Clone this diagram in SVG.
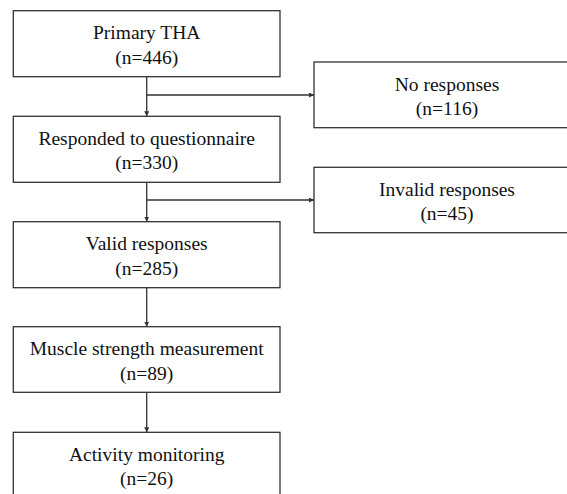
<svg xmlns="http://www.w3.org/2000/svg" width="567" height="494" viewBox="0 0 567 494">
<defs>
<marker id="arr" viewBox="0 0 10 10" refX="10" refY="5" markerWidth="5" markerHeight="5" orient="auto" markerUnits="userSpaceOnUse">
<path d="M0,0 L10,5 L0,10 z" fill="#333"/>
</marker>
<style>
.box{fill:#fff;stroke:#333;stroke-width:1.3}
.t{font-family:"Liberation Serif","Times New Roman",serif;font-size:19.5px;fill:#111;text-anchor:middle}
.c{fill:none;stroke:#333;stroke-width:1.3}
</style>
</defs>
<rect width="567" height="494" fill="#fff"/>
<g id="connectors">
<line class="c" x1="146.7" y1="76.7" x2="146.7" y2="116.3" marker-end="url(#arr)"/>
<line class="c" x1="146.7" y1="95" x2="314" y2="95" marker-end="url(#arr)"/>
<line class="c" x1="146.7" y1="182.3" x2="146.7" y2="221.7" marker-end="url(#arr)"/>
<line class="c" x1="146.7" y1="200" x2="314" y2="200" marker-end="url(#arr)"/>
<line class="c" x1="146.7" y1="287.7" x2="146.7" y2="326.7" marker-end="url(#arr)"/>
<line class="c" x1="146.7" y1="392.3" x2="146.7" y2="432.3" marker-end="url(#arr)"/>
</g>
<g id="n1">
<rect class="box" x="13.3" y="10.7" width="266.7" height="66"/>
<text class="t" x="146.7" y="39">Primary THA</text>
<text class="t" x="146.7" y="63.5">(n=446)</text>
</g>
<g id="n2">
<rect class="box" x="13.3" y="116.3" width="266.7" height="66"/>
<text class="t" x="146.7" y="144.8">Responded to questionnaire</text>
<text class="t" x="146.7" y="169.3">(n=330)</text>
</g>
<g id="n3">
<rect class="box" x="13.3" y="221.7" width="266.7" height="66"/>
<text class="t" x="146.7" y="250.4">Valid responses</text>
<text class="t" x="146.7" y="274.8">(n=285)</text>
</g>
<g id="n4">
<rect class="box" x="13.3" y="326.7" width="266.7" height="65.6"/>
<text class="t" x="146.7" y="355.2">Muscle strength measurement</text>
<text class="t" x="146.7" y="379.6">(n=89)</text>
</g>
<g id="n5">
<rect class="box" x="13.3" y="432.3" width="266.7" height="66"/>
<text class="t" x="146.7" y="460.8">Activity monitoring</text>
<text class="t" x="146.7" y="485.2">(n=26)</text>
</g>
<g id="r1">
<rect class="box" x="314" y="62" width="266" height="65.7"/>
<text class="t" x="447" y="90.5">No responses</text>
<text class="t" x="447" y="115">(n=116)</text>
</g>
<g id="r2">
<rect class="box" x="314" y="167.3" width="266" height="65.4"/>
<text class="t" x="447" y="195.8">Invalid responses</text>
<text class="t" x="447" y="220.3">(n=45)</text>
</g>
</svg>
